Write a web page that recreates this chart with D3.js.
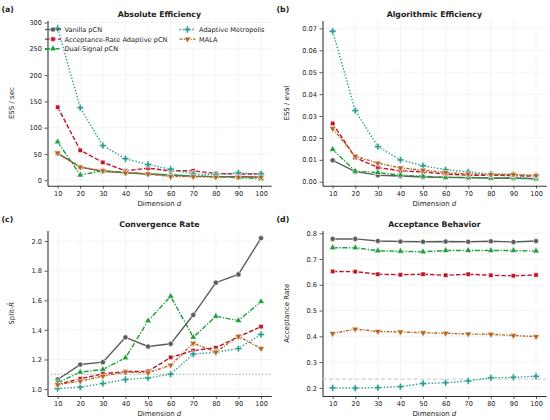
<!DOCTYPE html>
<html>
<head>
<meta charset="utf-8">
<script src="https://cdn.jsdelivr.net/npm/d3@7"></script>
<style>
  body { margin: 0; background: #fff; }
  text { font-family: "DejaVu Sans", sans-serif; fill: #222; }
</style>
</head>
<body>
<div id="chart"></div>
<script>
// ---- data ----
const dims = [10, 20, 30, 40, 50, 60, 70, 80, 90, 100];
const methods = ["Vanilla pCN", "Acceptance-Rate Adaptive pCN", "Dual-Signal pCN", "Adaptive Metropolis", "MALA"];

// rows follow `methods`
const essPerSec = [
  [51, 25, 17, 14, 12, 10, 8, 7, 7, 6],
  [139, 57, 34, 18, 23, 18, 18, 13, 12, 12],
  [73, 10, 18, 15, 12, 10, 8, 7, 5, 3],
  [289, 138, 66, 41, 30, 21, 12, 11, 14, 12],
  [52, 25, 18, 14, 12, 7, 7, 6, 6, 6]
];
const essPerEval = [
  [0.0098, 0.0046, 0.0030, 0.0026, 0.0022, 0.0020, 0.0018, 0.0017, 0.0016, 0.0014],
  [0.0266, 0.0110, 0.0065, 0.0050, 0.0045, 0.0035, 0.0030, 0.0030, 0.0028, 0.0025],
  [0.0148, 0.0048, 0.0042, 0.0030, 0.0025, 0.0020, 0.0020, 0.0017, 0.0018, 0.0014],
  [0.0687, 0.0325, 0.0160, 0.0100, 0.0073, 0.0055, 0.0045, 0.0035, 0.0033, 0.0028],
  [0.0243, 0.0117, 0.0085, 0.0063, 0.0053, 0.0042, 0.0035, 0.0033, 0.0033, 0.0028]
];
const splitRhat = [
  [1.065, 1.166, 1.182, 1.350, 1.288, 1.306, 1.501, 1.719, 1.775, 2.020],
  [1.032, 1.070, 1.103, 1.119, 1.120, 1.214, 1.260, 1.280, 1.353, 1.422],
  [1.043, 1.115, 1.133, 1.211, 1.461, 1.627, 1.350, 1.492, 1.463, 1.591],
  [1.004, 1.013, 1.038, 1.065, 1.076, 1.101, 1.236, 1.250, 1.274, 1.369],
  [1.030, 1.054, 1.088, 1.115, 1.110, 1.162, 1.310, 1.250, 1.357, 1.274]
];
const acceptRate = [
  [0.778, 0.778, 0.770, 0.768, 0.767, 0.768, 0.767, 0.769, 0.766, 0.770],
  [0.652, 0.651, 0.641, 0.639, 0.641, 0.637, 0.641, 0.637, 0.635, 0.638],
  [0.744, 0.744, 0.732, 0.730, 0.728, 0.733, 0.733, 0.733, 0.733, 0.731],
  [0.200, 0.199, 0.201, 0.205, 0.217, 0.220, 0.227, 0.239, 0.241, 0.245],
  [0.411, 0.428, 0.419, 0.417, 0.414, 0.412, 0.409, 0.408, 0.403, 0.399]
];

const xTicks = [10, 20, 30, 40, 50, 60, 70, 80, 90, 100];
const yTicksA = [0, 50, 100, 150, 200, 250, 300];
const yTicksB = [0, 0.01, 0.02, 0.03, 0.04, 0.05, 0.06, 0.07];
const yTicksC = [1.0, 1.2, 1.4, 1.6, 1.8, 2.0];
const yTicksD = [0.2, 0.3, 0.4, 0.5, 0.6, 0.7, 0.8];
const rhatThreshold = 1.1;
const optimalAccept = 0.234;

// ---- styles ----
const styles = [
  { color: "#5c5c5c", dash: null,              marker: "circle" },
  { color: "#c0142b", dash: "4.5,2",           marker: "square" },
  { color: "#1c9e3c", dash: "5,1.6,1.3,1.6",   marker: "tri" },
  { color: "#2a9d8f", dash: "1.4,1.8",         marker: "plus" },
  { color: "#b5651d", dash: "3,1.3,1.2,1.3",   marker: "triDown" }
];

const W = 550, H = 420;
const svg = d3.select("#chart").append("svg")
  .attr("width", W).attr("height", H)
  .attr("viewBox", `0 0 ${W} ${H}`);

function markerPath(kind) {
  switch (kind) {
    case "circle":  return d3.symbol(d3.symbolCircle, 21)();
    case "square":  return d3.symbol(d3.symbolSquare, 20)();
    case "tri":     return d3.symbol(d3.symbolTriangle, 20)();
    case "triDown": return d3.symbol(d3.symbolTriangle, 20)();
    case "plus":    return d3.symbol(d3.symbolCross, 26)();
  }
}
function markerRot(kind) { return kind === "triDown" ? " rotate(180)" : ""; }

const panels = [
  { tag: "(a)", title: "Absolute Efficiency", ylab: "ESS / sec", data: essPerSec,
    x0: 47.5, x1: 271.2, y0: 185.7, y1: 20.5, yDom: [-10.3, 303.8], yTicks: yTicksA,
    fmt: d3.format("d"), legend: true },
  { tag: "(b)", title: "Algorithmic Efficiency", ylab: "ESS / eval", data: essPerEval,
    x0: 322.5, x1: 546.2, y0: 185.7, y1: 20.5, yDom: [-0.0018, 0.0736], yTicks: yTicksB,
    fmt: d3.format(".2f") },
  { tag: "(c)", title: "Convergence Rate", ylab: "Split-", hatR: true, data: splitRhat,
    x0: 47.5, x1: 271.2, y0: 396, y1: 230.5, yDom: [0.9535, 2.0715], yTicks: yTicksC,
    fmt: d3.format(".1f"), ref: { y: rhatThreshold, color: "#a8a8a8", dash: "1.5,1.8", w: 1.1 } },
  { tag: "(d)", title: "Acceptance Behavior", ylab: "Acceptance Rate", data: acceptRate,
    x0: 322.5, x1: 546.2, y0: 396, y1: 230.5, yDom: [0.1685, 0.8107], yTicks: yTicksD,
    fmt: d3.format(".1f"), ref: { y: optimalAccept, color: "#d0d0d0", dash: "4,2.5", w: 1.3 } }
];

panels.forEach(p => {
  const x = d3.scaleLinear().domain([5.5, 104.5]).range([p.x0, p.x1]);
  const y = d3.scaleLinear().domain(p.yDom).range([p.y0, p.y1]);
  const g = svg.append("g");

  // grid
  g.append("g").selectAll("line").data(xTicks).join("line")
    .attr("x1", d => x(d)).attr("x2", d => x(d))
    .attr("y1", p.y0).attr("y2", p.y1)
    .attr("stroke", "#ececec").attr("stroke-width", 0.6);
  g.append("g").selectAll("line").data(p.yTicks).join("line")
    .attr("x1", p.x0).attr("x2", p.x1)
    .attr("y1", d => y(d)).attr("y2", d => y(d))
    .attr("stroke", "#ececec").attr("stroke-width", 0.6);

  // axes
  const xAxis = g.append("g").attr("transform", `translate(0,${p.y0})`)
    .call(d3.axisBottom(x).tickValues(xTicks).tickSize(3).tickPadding(2.5).tickSizeOuter(0));
  const yAxis = g.append("g").attr("transform", `translate(${p.x0},0)`)
    .call(d3.axisLeft(y).tickValues(p.yTicks).tickFormat(p.fmt).tickSize(3).tickPadding(2.5).tickSizeOuter(0));
  [xAxis, yAxis].forEach(a => {
    a.select(".domain").attr("stroke", "#333").attr("stroke-width", 1.1);
    a.selectAll(".tick line").attr("stroke", "#333").attr("stroke-width", 0.8);
    a.selectAll(".tick text").attr("font-size", 6.6).attr("fill", "#222")
      .attr("font-family", "DejaVu Sans");
  });

  // reference line
  if (p.ref) {
    g.append("line")
      .attr("x1", p.x0).attr("x2", p.x1)
      .attr("y1", y(p.ref.y)).attr("y2", y(p.ref.y))
      .attr("stroke", p.ref.color).attr("stroke-width", p.ref.w)
      .attr("stroke-dasharray", p.ref.dash);
  }

  // series
  const line = d3.line().x((d, i) => x(dims[i])).y(d => y(d));
  p.data.forEach((vals, k) => {
    const s = styles[k];
    g.append("path").datum(vals)
      .attr("d", line).attr("fill", "none")
      .attr("stroke", s.color).attr("stroke-width", 1.4)
      .attr("stroke-dasharray", s.dash)
      .attr("stroke-linejoin", "round");
    g.append("g").selectAll("path").data(vals).join("path")
      .attr("d", markerPath(s.marker))
      .attr("transform", (d, i) => `translate(${x(dims[i])},${y(d)})${markerRot(s.marker)}`)
      .attr("fill", s.color).attr("stroke", "#fff").attr("stroke-width", 0.6);
  });

  // titles and labels
  const cx = (p.x0 + p.x1) / 2;
  svg.append("text").attr("x", cx).attr("y", p.y1 - 4)
    .attr("text-anchor", "middle").attr("font-size", 7.8).attr("font-weight", "bold")
    .text(p.title);
  svg.append("text").attr("x", p.x0 - 46).attr("y", p.y1 - 9)
    .attr("font-size", 7.8).attr("font-weight", "bold").text(p.tag);

  const xl = svg.append("text").attr("x", cx).attr("y", p.y0 + 20)
    .attr("text-anchor", "middle").attr("font-size", 7);
  xl.append("tspan").text("Dimension ");
  xl.append("tspan").attr("font-style", "italic").text("d");

  const yl = svg.append("text")
    .attr("transform", `translate(${p.x0 - 34},${(p.y0 + p.y1) / 2}) rotate(-90)`)
    .attr("text-anchor", "middle").attr("font-size", 7);
  yl.append("tspan").text(p.ylab);
  if (p.hatR) yl.append("tspan").attr("font-style", "italic").text("R\u0302");

  // legend
  if (p.legend) {
    const cols = [[0, 1, 2], [3, 4]];
    const colX = [p.x0 - 2.5, p.x0 + 132];
    cols.forEach((ids, c) => {
      ids.forEach((k, r) => {
        const s = styles[k];
        const lx = colX[c], ly = p.y1 + 9 + r * 9.6;
        const lg = svg.append("g");
        lg.append("line").attr("x1", lx).attr("x2", lx + 16)
          .attr("y1", ly).attr("y2", ly)
          .attr("stroke", s.color).attr("stroke-width", 1.4)
          .attr("stroke-dasharray", s.dash);
        lg.append("path").attr("d", markerPath(s.marker))
          .attr("transform", `translate(${lx + 8},${ly})${markerRot(s.marker)}`)
          .attr("fill", s.color).attr("stroke", "#fff").attr("stroke-width", 0.6);
        lg.append("text").attr("x", lx + 19.5).attr("y", ly + 2.4)
          .attr("font-size", 6.6).text(methods[k]);
      });
    });
  }
});
</script>
</body>
</html>
